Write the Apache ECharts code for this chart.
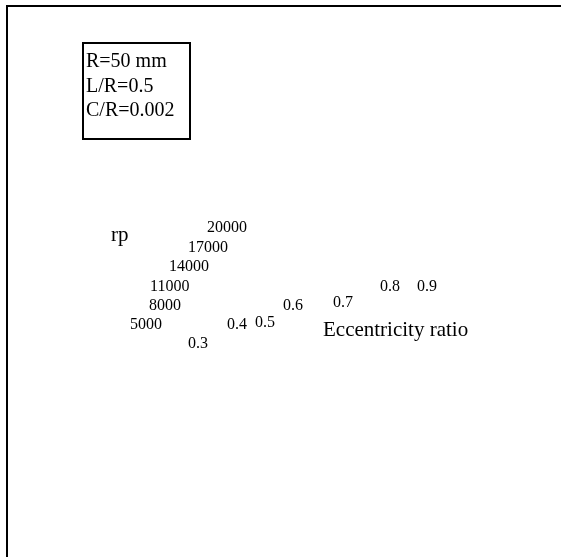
<!DOCTYPE html>
<html>
<head>
<meta charset="utf-8">
<title>Load capacity vs eccentricity ratio</title>
<script src="https://cdn.jsdelivr.net/npm/echarts@6/dist/echarts.min.js"></script>
<style>
  html, body { margin: 0; padding: 0; background: #ffffff; }
  #chart { width: 561px; height: 557px; }
</style>
</head>
<body>
<div id="chart"></div>
<script>
// Bearing parameters shown in the legend box
const bearingParams = ['R=50 mm', 'L/R=0.5', 'C/R=0.002'];

// Axis tick labels
const rpTicks = ['5000', '8000', '11000', '14000', '17000', '20000'];
const eccTicks = ['0.3', '0.4', '0.5', '0.6', '0.7', '0.8', '0.9'];

// Axis titles
const rpTitle = 'rp';
const eccTitle = 'Eccentricity ratio';

// Projected anchor points of the tick labels (left x, vertical centre y)
const rpTickAnchors = [[130, 325], [149, 306], [150, 287], [169, 267], [188, 248], [207, 228]];
const eccTickAnchors = [[188, 344], [227, 325], [255, 323], [283, 306], [333, 303], [380, 287], [417, 287]];

const serif = "'Liberation Serif', 'Times New Roman', 'DejaVu Serif', serif";
const tickFont = '16px ' + serif;
const boxFont = '20px ' + serif;
const titleFont = '21px ' + serif;

function textEl(text, x, y, font) {
  return {
    type: 'text',
    silent: true,
    style: { x: x, y: y, text: text, font: font, fill: '#000000', align: 'left', verticalAlign: 'middle' }
  };
}

const elements = [];

// Frame lines along the top and left edges
elements.push({ type: 'line', silent: true, shape: { x1: 6, y1: 6, x2: 561, y2: 6 }, style: { stroke: '#000', lineWidth: 2 } });
elements.push({ type: 'line', silent: true, shape: { x1: 7, y1: 5, x2: 7, y2: 557 }, style: { stroke: '#000', lineWidth: 2 } });

// Parameter box
elements.push({ type: 'rect', silent: true, shape: { x: 83, y: 43, width: 107, height: 96 }, style: { fill: '#ffffff', stroke: '#000', lineWidth: 2 } });
bearingParams.forEach(function (t, i) {
  elements.push(textEl(t, 86, 62 + i * 24.5, boxFont));
});

// rp axis
elements.push(textEl(rpTitle, 111, 235, titleFont));
rpTicks.forEach(function (t, i) {
  elements.push(textEl(t, rpTickAnchors[i][0], rpTickAnchors[i][1], tickFont));
});

// Eccentricity ratio axis
eccTicks.forEach(function (t, i) {
  elements.push(textEl(t, eccTickAnchors[i][0], eccTickAnchors[i][1], tickFont));
});
elements.push(textEl(eccTitle, 323, 330, titleFont));

const chart = echarts.init(document.getElementById('chart'), null, { renderer: 'canvas' });
chart.setOption({
  backgroundColor: '#ffffff',
  animation: false,
  graphic: { elements: elements }
});
</script>
</body>
</html>
